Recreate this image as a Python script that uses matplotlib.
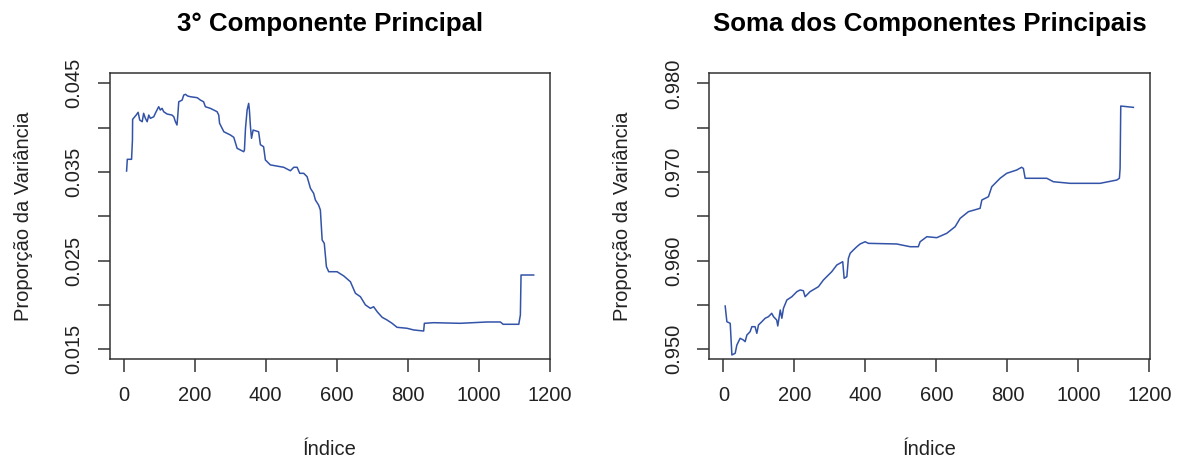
import matplotlib
matplotlib.use("Agg")
import matplotlib.pyplot as plt

plt.rcParams['font.family'] = ['Liberation Sans', 'DejaVu Sans']

# 3rd principal component - proportion of variance
x_pc3 = [8, 10, 22, 24.5, 25, 35, 40.5, 45, 52, 56, 61, 66, 70.5, 75, 84.5, 89, 96, 98.5,
         103, 108, 112.5, 122, 136, 141, 145.6, 150, 152, 155, 164.5, 169, 174, 180, 188,
         207, 216, 225, 230, 244, 263, 267.6, 270, 282, 300.6, 310, 319.4, 338, 340, 343,
         347.6, 352, 354, 357, 360, 364.5, 380, 385, 394, 399, 413, 450.7, 469.6, 479,
         488.5, 495.8, 507, 516.6, 526, 535, 540, 549, 554, 559, 565, 571, 577.5, 601, 620,
         638.6, 652.7, 666.8, 681, 695, 704, 714, 728, 742, 756, 770, 798, 817, 845, 847,
         873, 948, 1024, 1061, 1069, 1113, 1117.5, 1119.4, 1155]
y_pc3 = [0.03511, 0.03643, 0.03643, 0.03861, 0.04094, 0.04142, 0.04173, 0.04086, 0.04067,
         0.04162, 0.04105, 0.04067, 0.04142, 0.04105, 0.04123, 0.04162, 0.04218, 0.04236,
         0.04199, 0.04218, 0.04180, 0.04154, 0.04142, 0.04123, 0.04067, 0.04030, 0.04123,
         0.04292, 0.04311, 0.04368, 0.04376, 0.04357, 0.04349, 0.04338, 0.04311, 0.04292,
         0.04236, 0.04218, 0.04180, 0.04142, 0.04049, 0.03954, 0.03917, 0.03891, 0.03767,
         0.03729, 0.03748, 0.03992, 0.04199, 0.04274, 0.04199, 0.04011, 0.03880, 0.03973,
         0.03954, 0.03808, 0.03785, 0.03636, 0.03580, 0.03553, 0.03514, 0.03553, 0.03553,
         0.03485, 0.03485, 0.03447, 0.03316, 0.03259, 0.03184, 0.03127, 0.03071, 0.02733,
         0.02695, 0.02432, 0.02375, 0.02375, 0.02327, 0.02262, 0.02132, 0.02093, 0.02000,
         0.01962, 0.01980, 0.01924, 0.01861, 0.01830, 0.01793, 0.01748, 0.01737, 0.01718,
         0.01706, 0.01793, 0.01800, 0.01793, 0.01808, 0.01808, 0.01782, 0.01782, 0.01887,
         0.02338, 0.02338]

# sum of the principal components
x_sum = [4.8, 9.6, 19, 23.7, 33, 37.7, 47, 56, 61, 66, 75, 80, 89, 94, 98.6, 108, 117.5,
         126.8, 136, 141, 150, 153, 160, 164.5, 169, 178.6, 192.7, 206.8, 216, 225, 230,
         244, 267.6, 281.7, 305, 319.4, 336, 340, 347.6, 352, 357, 366, 375.8, 385, 399,
         408.5, 488, 526, 549, 554, 573, 601, 629, 652.7, 666.8, 690, 723, 728, 746.5, 756,
         779.4, 798, 826, 840, 845, 850, 911, 929.6, 976.6, 1061, 1108, 1115.5, 1117.5,
         1119.4, 1155]
y_sum = [0.95488, 0.95311, 0.95293, 0.94936, 0.94955, 0.95048, 0.95124, 0.95105, 0.95086,
         0.95161, 0.95198, 0.95255, 0.95255, 0.95180, 0.95274, 0.95311, 0.95350, 0.95368,
         0.95406, 0.95368, 0.95330, 0.95263, 0.95443, 0.95350, 0.95462, 0.95556, 0.95593,
         0.95650, 0.95669, 0.95661, 0.95593, 0.95650, 0.95706, 0.95782, 0.95875, 0.95951,
         0.95988, 0.95801, 0.95819, 0.96026, 0.96083, 0.96120, 0.96157, 0.96188, 0.96213,
         0.96195, 0.96188, 0.96157, 0.96157, 0.96213, 0.96270, 0.96259, 0.96308, 0.96383,
         0.96477, 0.96552, 0.96590, 0.96684, 0.96721, 0.96834, 0.96929, 0.96985, 0.97022,
         0.97053, 0.97040, 0.96929, 0.96929, 0.96890, 0.96872, 0.96872, 0.96909, 0.96929,
         0.97041, 0.97744, 0.97729]

xticks = [0, 200, 400, 600, 800, 1000, 1200]
yticks_pc3 = [0.015, 0.020, 0.025, 0.030, 0.035, 0.040, 0.045]
ylabels_pc3 = ['0.015', '', '0.025', '', '0.035', '', '0.045']
yticks_sum = [0.950, 0.955, 0.960, 0.965, 0.970, 0.975, 0.980]
ylabels_sum = ['0.950', '', '0.960', '', '0.970', '', '0.980']

line_color = '#3353a8'
frame_color = '#333333'

fig = plt.figure(figsize=(11.78, 4.61), dpi=100)
ax1 = fig.add_axes([0.0930, 0.2206, 0.3739, 0.6217])
ax2 = fig.add_axes([0.6021, 0.2206, 0.3739, 0.6217])

panels = [
    (ax1, x_pc3, y_pc3, '3° Componente Principal', yticks_pc3, ylabels_pc3, (0.01387, 0.0462)),
    (ax2, x_sum, y_sum, 'Soma dos Componentes Principais', yticks_sum, ylabels_sum, (0.94887, 0.9812)),
]

for ax, xs, ys, title, yt, yl, ylim in panels:
    ax.plot(xs, ys, color=line_color, lw=1.1)
    ax.set_xlim(-40, 1201)
    ax.set_ylim(*ylim)
    ax.set_xticks(xticks)
    ax.set_xticklabels([str(t) for t in xticks])
    ax.set_yticks(yt)
    ax.set_yticklabels(yl, rotation=90, va='center')
    for s in ax.spines.values():
        s.set_color(frame_color)
        s.set_linewidth(1.1)
    ax.tick_params(direction='out', length=9, width=1.1, color=frame_color,
                   labelsize=14.5, labelcolor='#222222', pad=10)
    ax.set_title(title, fontsize=18.6, fontweight='bold', y=1.147, va='baseline', pad=0)
    ax.set_xlabel('Índice', fontsize=14.5, color='#222222')
    ax.xaxis.set_label_coords(0.5, -0.316)
    ax.xaxis.label.set_va('center')
    ax.set_ylabel('Proporção da Variância', fontsize=14.5, color='#222222', va='center')
    ax.yaxis.set_label_coords(-0.196, 0.5)

fig.savefig('out.png', dpi=100)
